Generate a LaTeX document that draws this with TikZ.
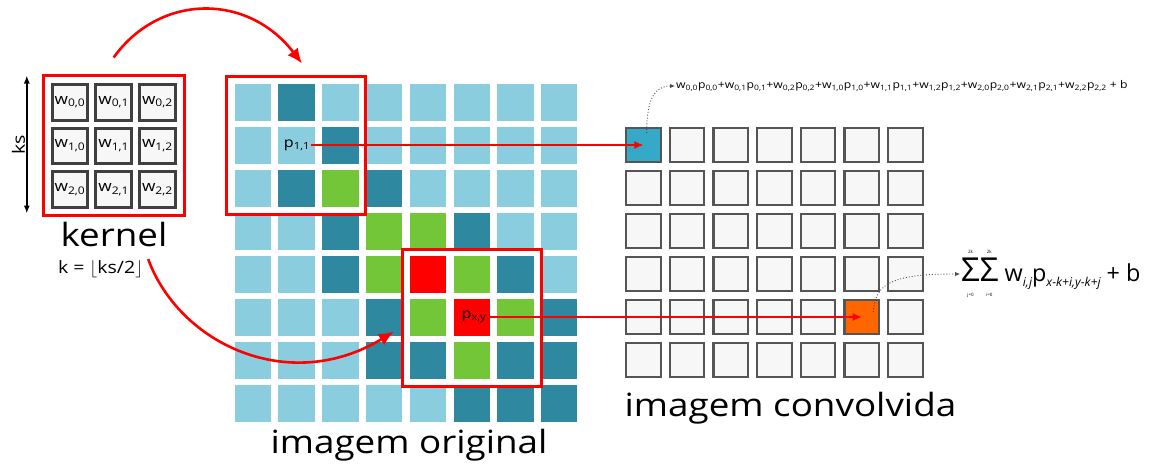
\documentclass[tikz,border=0pt]{standalone}
\usepackage{amsmath}
\usepackage{fontspec}
\setmainfont[FakeStretch=1.15]{Open Sans}
\newfontfamily\sansreta{Open Sans}
\usetikzlibrary{arrows.meta}

\definecolor{claro}{HTML}{8ACDDE}
\definecolor{escuro}{HTML}{2E89A0}
\definecolor{verde}{HTML}{74C639}
\definecolor{vermelho}{HTML}{FF0000}
\definecolor{fundo}{HTML}{F7F7F7}
\definecolor{borda}{HTML}{555555}
\definecolor{azul}{HTML}{36A9C9}
\definecolor{laranja}{HTML}{FF6600}

\newcommand{\termo}[1]{w\textsubscript{#1}p\textsubscript{#1}}
\newcommand{\indice}[1]{\raisebox{-0.35ex}{\fontsize{12.2}{13}\selectfont\itshape #1}}
\newcommand{\somatorio}[2]{\mathop{\text{\fontsize{33}{33}\selectfont Σ}}\limits_{\text{\fontsize{4.5}{5}\selectfont #1}}^{\text{\fontsize{4.5}{5}\selectfont #2}}}

\begin{document}
\begin{tikzpicture}
  [x=1pt,y=-1pt,
   pix/.style={rectangle,inner sep=0pt,minimum width=36.3pt,minimum height=36.7pt},
   peso/.style={rectangle,draw=black!75,line width=3pt,fill=fundo,minimum size=35.7pt,inner sep=0pt,font=\fontsize{15}{17}\selectfont},
   saida/.style={rectangle,draw=borda,line width=2.2pt,fill=fundo,minimum width=34.5pt,minimum height=34.4pt,inner sep=0pt},
   caixa/.style={rectangle,draw=vermelho,line width=3pt,inner sep=0pt},
   seta/.style={draw=vermelho,line width=1.3pt,-{Latex[length=9pt,width=8pt]}},
   curva/.style={draw=vermelho,line width=2.6pt,-{Latex[length=15pt,width=13pt]}},
   cota/.style={draw=black,line width=1.4pt,{Latex[length=8pt,width=6pt]}-{Latex[length=8pt,width=6pt]}},
   pontilhado/.style={draw=black!70,dotted,line width=0.9pt,-{Latex[length=5pt,width=4.5pt]}},
   titulo/.style={font=\fontsize{32}{36}\selectfont,anchor=base,inner sep=0pt}]

  \useasboundingbox[fill=white] (0,0) rectangle (1151,466);

  % kernel
  \node[caixa,minimum width=140.7pt,minimum height=140pt] (kernel) at (113.65,145) {};
  \foreach \lin in {0,1,2}
    \foreach \col in {0,1,2}
      \node[peso] (w-\lin-\col) at (70+43.7*\col,102.2+43.7*\lin) {w\textsubscript{\lin,\col}};

  \draw[cota] ([xshift=-15pt,yshift=-2pt]kernel.north west) -- ([xshift=-15pt,yshift=3pt]kernel.south west)
    node[midway,rotate=90,above,inner sep=1pt,font=\fontsize{17}{19}\selectfont] (ks) {ks};

  \node[titulo] (tkernel) at (114,246.7) {kernel};
  \node[font=\fontsize{17}{19}\selectfont,anchor=base,inner sep=1pt] (kform) at (100.5,273.3) {k = $\lfloor$ks/2$\rfloor$};

  % imagem original
  \foreach \linha [count=\lin from 0] in {
      {claro,escuro,claro,claro,claro,claro,claro,claro},
      {claro,claro,escuro,claro,claro,claro,claro,claro},
      {claro,escuro,verde,escuro,claro,claro,claro,claro},
      {claro,claro,escuro,verde,verde,escuro,claro,claro},
      {claro,claro,escuro,verde,vermelho,verde,escuro,claro},
      {claro,claro,claro,escuro,verde,vermelho,verde,escuro},
      {claro,claro,claro,escuro,escuro,verde,escuro,escuro},
      {claro,claro,claro,claro,claro,escuro,escuro,escuro}}
  {
    \foreach \cor [count=\col from 0] in \linha
      \node[pix,fill=\cor] (o-\lin-\col) at (252.85+43.76*\col,102.35+43*\lin) {};
  }

  \node[caixa,minimum width=139pt,minimum height=138pt] (janela1) at (295.5,145) {};
  \node[caixa,minimum width=139.4pt,minimum height=136.7pt] (janela2) at (472,317.65) {};

  \node[inner sep=1pt,font=\fontsize{14}{16}\selectfont] (p11) at (297,145) {p\textsubscript{1,1}};
  \node[inner sep=1pt,font=\fontsize{14}{16}\selectfont] (pxy) at (474,317) {p\textsubscript{x,y}};

  \node[titulo] (toriginal) at (409,453.3) {imagem original};

  % imagem convolvida
  \foreach \lin in {0,...,5}
    \foreach \col in {0,...,6}
      \node[saida] (s-\lin-\col) at (643.35+43.67*\col,145+43*\lin) {};
  \node[saida,fill=azul] (s-0-0) at (643.35,145) {};
  \node[saida,fill=laranja] (s-4-5) at (861.7,317) {};

  \node[titulo] (tconv) at (790.5,416) {imagem convolvida};

  \node[anchor=west,inner sep=1pt,font=\fontsize{10.6}{12}\selectfont] (formula) at (675,86)
    {\termo{0,0}+\termo{0,1}+\termo{0,2}+\termo{1,0}+\termo{1,1}+\termo{1,2}+\termo{2,0}+\termo{2,1}+\termo{2,2} + b};
  \node[anchor=west,inner sep=1pt,font=\sansreta\fontsize{23.4}{25}\selectfont] (soma) at (960,274)
    {$\somatorio{j=0}{2k}\!\somatorio{i=0}{2k}$ w\indice{i,j}p\indice{x-k+i,y-k+j} + b};

  % setas
  \draw[curva] ([yshift=16pt]kernel.north) .. controls (160,-7) and (248,-7) .. ([xshift=6.5pt,yshift=11pt]janela1.north);
  \draw[curva] ([xshift=4pt]kform.north east) .. controls (180,345) and (290,395) .. ([xshift=-7pt,yshift=-14pt]janela2.west);

  \draw[seta] (p11.east) -- (s-0-0.center);
  \draw[seta] (pxy.east) -- (s-4-5.center);

  \draw[pontilhado] ([xshift=3.3pt,yshift=12pt]s-0-0.center) .. controls (646.7,98) and (655,86) .. (formula.west);
  \draw[pontilhado] ([xshift=11.6pt,yshift=5pt]s-4-5.center) .. controls (875,283) and (893,274) .. (soma.west);

\end{tikzpicture}
\end{document}
